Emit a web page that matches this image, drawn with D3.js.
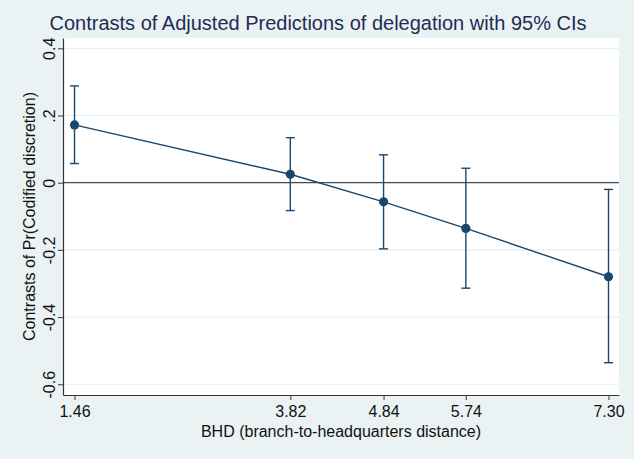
<!DOCTYPE html>
<html>
<head>
	<meta charset="UTF-8" />
	<title>contrasts of adjusted predictions</title>
	<script src="https://d3js.org/d3.v7.min.js"></script>
	<style>
		body { margin: 0; background: #eaf2f3; }
		text { font-family: "Liberation Sans", Arial, Helvetica, sans-serif; }
	</style>
</head>
<body>
	<svg id="chart" width="634" height="459"></svg>

	<script type="text/javascript">
	// data
	const bhd = [1.46, 3.82, 4.84, 5.74, 7.30]
	const contrast = [0.172, 0.025, -0.057, -0.136, -0.280]
	const ciLow = [0.057, -0.083, -0.197, -0.314, -0.536]
	const ciHigh = [0.288, 0.134, 0.083, 0.043, -0.020]
	const yTicks = [0.4, 0.2, 0, -0.2, -0.4, -0.6]
	const yTickLabels = ["0.4", ".2", "0", "-0.2", "-0.4", "-0.6"]

	// colors
	navy = "#1a476f"
	bg = "#eaf2f3"
	grid = "#e6eff1"
	titleCol = "#1f2c55"

	const svg = d3.select("#chart")
	svg.append("rect").attr("width", 634).attr("height", 459).style("fill", bg)

	// plot region
	const pLeft = 63, pRight = 619, pTop = 38, pBottom = 395
	svg.append("rect")
		.attr("x", pLeft).attr("y", pTop)
		.attr("width", pRight - pLeft).attr("height", pBottom - pTop)
		.style("fill", "#ffffff")

	//scale
	var xScale = d3.scaleLinear().domain([1.334, 7.415]).range([pLeft, pRight])
	var yScale = d3.scaleLinear().domain([0.4307, -0.632]).range([pTop, pBottom])

	// gridlines (0 is replaced by the reference line)
	svg.append("g").selectAll("line")
		.data(yTicks.filter(d => d != 0))
		.join("line")
		.attr("x1", pLeft).attr("x2", pRight)
		.attr("y1", d => yScale(d)).attr("y2", d => yScale(d))
		.style("stroke", grid).style("stroke-width", "1.2px")

	// zero line
	svg.append("line")
		.attr("x1", pLeft).attr("x2", pRight)
		.attr("y1", yScale(0)).attr("y2", yScale(0))
		.style("stroke", "#4a4a4a").style("stroke-width", "1.3px")

	//axis
	xAxis = d3.axisBottom().scale(xScale).tickValues(bhd)
		.tickFormat(d3.format(".2f")).tickSize(5).tickSizeOuter(0)
	const xg = svg.append("g").attr("id", "xAxisG")
		.attr("transform", `translate(0,${pBottom})`).call(xAxis)
	xg.selectAll("text").style("font-size", "16px").style("fill", "#111")
		.attr("y", 22).attr("dy", 0)

	yAxis = d3.axisLeft().scale(yScale).tickValues(yTicks)
		.tickFormat((d, i) => yTickLabels[i]).tickSize(5).tickSizeOuter(0)
	const yg = svg.append("g").attr("id", "yAxisG")
		.attr("transform", `translate(${pLeft},0)`).call(yAxis)
	yg.selectAll("text")
		.attr("transform", "rotate(-90)")
		.attr("x", 0).attr("y", -8).attr("dy", 0)
		.style("text-anchor", "middle")
		.style("font-size", "16px").style("fill", "#111")

	svg.selectAll(".domain").style("stroke", "#333").style("stroke-width", "1.2px")
	svg.selectAll(".tick line").style("stroke", "#555").style("stroke-width", "1.2px")

	// series
	const pts = bhd.map((b, i) => ({x: b, y: contrast[i], lo: ciLow[i], hi: ciHigh[i]}))

	const line = d3.line().x(d => xScale(d.x)).y(d => yScale(d.y))
	svg.append("path")
		.attr("d", line(pts))
		.style("fill", "none").style("stroke", navy).style("stroke-width", "1.4px")

	const bars = svg.append("g").selectAll("g").data(pts).join("g")
		.style("stroke", navy).style("stroke-width", "1.4px")
	bars.append("line")
		.attr("x1", d => xScale(d.x)).attr("x2", d => xScale(d.x))
		.attr("y1", d => yScale(d.lo)).attr("y2", d => yScale(d.hi))
	bars.append("line")
		.attr("x1", d => xScale(d.x) - 4.5).attr("x2", d => xScale(d.x) + 4.5)
		.attr("y1", d => yScale(d.lo)).attr("y2", d => yScale(d.lo))
	bars.append("line")
		.attr("x1", d => xScale(d.x) - 4.5).attr("x2", d => xScale(d.x) + 4.5)
		.attr("y1", d => yScale(d.hi)).attr("y2", d => yScale(d.hi))

	svg.append("g").selectAll("circle").data(pts).join("circle")
		.attr("cx", d => xScale(d.x)).attr("cy", d => yScale(d.y))
		.attr("r", 4.6).style("fill", navy)

	// titles
	svg.append("text")
		.attr("x", 318).attr("y", 30)
		.style("text-anchor", "middle").style("font-size", "20px").style("fill", titleCol)
		.text("Contrasts of Adjusted Predictions of delegation with 95% CIs")

	svg.append("text")
		.attr("x", (pLeft + pRight) / 2).attr("y", 437)
		.style("text-anchor", "middle").style("font-size", "16px").style("fill", "#111")
		.text("BHD (branch-to-headquarters distance)")

	svg.append("text")
		.attr("transform", `translate(35,${(pTop + pBottom) / 2}) rotate(-90)`)
		.style("text-anchor", "middle").style("font-size", "16px").style("fill", "#111")
		.text("Contrasts of Pr(Codified discretion)")
	</script>
</body>
</html>
